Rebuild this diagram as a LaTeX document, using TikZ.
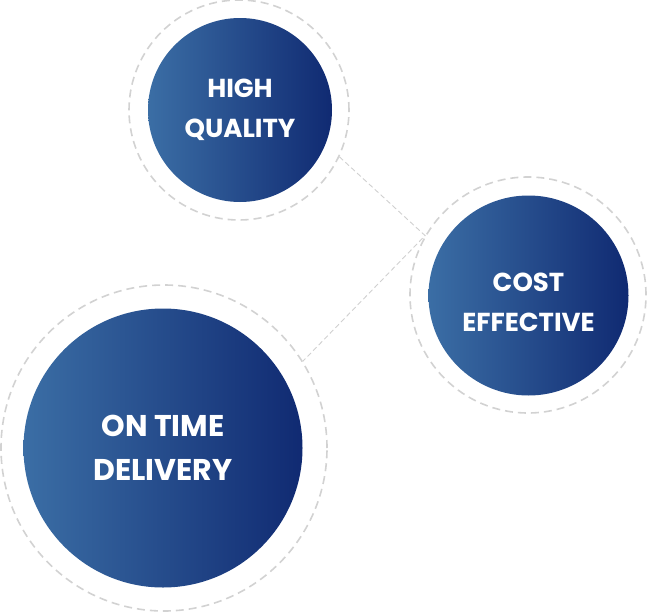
\documentclass[tikz,border=0pt]{standalone}
\usepackage{fontspec}
\setmainfont{Poppins}[UprightFont=*-Regular,BoldFont=*-Bold]
\usepackage{tikz}
\usetikzlibrary{positioning,calc}
\usepackage{xcolor}
\definecolor{steel}{HTML}{3B6EA5}
\definecolor{navy}{HTML}{102A72}
\definecolor{ring}{HTML}{D2D2D2}
\definecolor{link}{HTML}{D0D0D0}
\tikzset{
  caption/.style={text=white, align=center, inner sep=0pt,
                  font=\bfseries\fontsize{26}{40}\selectfont},
  ball/.style={circle, left color=steel, right color=navy, caption},
  halo/.style={circle, draw=ring, line width=1.6pt, dash pattern=on 8pt off 5pt},
  linkline/.style={draw=link, line width=0.9pt, dash pattern=on 5pt off 3pt}
}

\begin{document}
\begin{tikzpicture}[x=1pt,y=-1pt]
  \useasboundingbox (0,0) rectangle (648,613);
  % outer rings
  \node[halo, minimum size=220pt] (hqring) at (239,110) {};
  \node[halo, minimum size=236pt] (cering) at (528,295) {};
  \node[halo, minimum size=326pt] (otdring) at (164,448) {};
  % links
  \draw[linkline] (hqring.-25) -- (cering.150) -- (otdring.32.5);
  % circles
  \node[ball, minimum size=184pt] (hq) at (240,110) {HIGH\\QUALITY};
  \node[ball, minimum size=200pt] (ce) at (528.5,295.5) {};
  \node[caption] (cetext) at ($(ce)+(0,7)$) {COST\\EFFECTIVE};
  \node[ball, minimum size=279pt, font=\bfseries\fontsize{30}{44}\selectfont] (otd) at (163,448) {ON TIME\\DELIVERY};
\end{tikzpicture}
\end{document}
